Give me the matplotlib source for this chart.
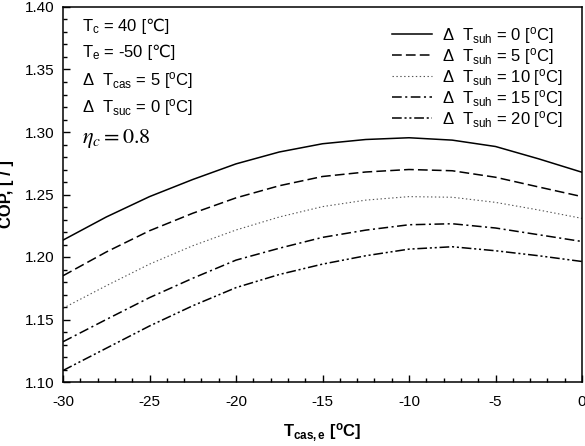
import numpy as np
import matplotlib
matplotlib.use("Agg")
import matplotlib.pyplot as plt
from matplotlib.ticker import MultipleLocator, FormatStrFormatter

plt.rcParams['font.family'] = ['Liberation Sans', 'DejaVu Sans']
plt.rcParams['mathtext.fontset'] = 'custom'
plt.rcParams['mathtext.rm'] = 'Liberation Sans'
plt.rcParams['mathtext.it'] = 'Liberation Sans:italic'
plt.rcParams['mathtext.bf'] = 'Liberation Sans:bold'
plt.rcParams['lines.scale_dashes'] = False
plt.rcParams['axes.unicode_minus'] = False

# data
t_cas_e = [-30, -27.5, -25, -22.5, -20, -17.5, -15, -12.5, -10, -7.5, -5, -2.5, 0]
cop_suh0 = [1.2135, 1.232, 1.2483, 1.262, 1.2745, 1.284, 1.2906, 1.294, 1.2954, 1.2935, 1.2884, 1.2785, 1.2678]
cop_suh5 = [1.185, 1.204, 1.221, 1.235, 1.2473, 1.257, 1.2644, 1.268, 1.270, 1.269, 1.2638, 1.256, 1.2483]
cop_suh10 = [1.159, 1.177, 1.1943, 1.209, 1.2216, 1.232, 1.2403, 1.2455, 1.2483, 1.2478, 1.2437, 1.2376, 1.2309]
cop_suh15 = [1.1322, 1.150, 1.1675, 1.183, 1.1975, 1.207, 1.2157, 1.2215, 1.2258, 1.2266, 1.2232, 1.2178, 1.2124]
cop_suh20 = [1.1092, 1.127, 1.1448, 1.161, 1.1755, 1.186, 1.1943, 1.201, 1.2063, 1.2082, 1.205, 1.201, 1.1964]
suh_labels = ["0", "5", "10", "15", "20"]

series = [cop_suh0, cop_suh5, cop_suh10, cop_suh15, cop_suh20]
styles = [
    dict(linestyle='-', color='black', lw=1.1),
    dict(linestyle=(0, (7, 3)), color='black', lw=1.1),
    dict(linestyle=(0, (1, 1.8)), color='#555555', lw=0.8),
    dict(linestyle=(0, (7, 2.5, 1.5, 2.5)), color='black', lw=1.1),
    dict(linestyle=(0, (7, 2, 1.5, 2, 1.5, 2)), color='black', lw=1.1),
]

fig = plt.figure(figsize=(5.85, 4.46), dpi=100)
ax = fig.add_axes([63 / 585, 1 - 382 / 446, 519 / 585, 375 / 446])

for vals, lab, st in zip(series, suh_labels, styles):
    ax.plot(t_cas_e, vals, label=r'$\Delta$  T$_{\rm suh}$ = ' + lab + r' [$^{\rm o}$C]', **st)

ax.set_xlim(-30, 0)
ax.set_ylim(1.10, 1.40)
ax.xaxis.set_major_locator(MultipleLocator(5))
ax.xaxis.set_minor_locator(MultipleLocator(1))
ax.yaxis.set_major_locator(MultipleLocator(0.05))
ax.yaxis.set_minor_locator(MultipleLocator(0.01))
ax.yaxis.set_major_formatter(FormatStrFormatter('%.2f'))
ax.tick_params(which='both', direction='in', top=False, right=False, labelsize=11, width=1.0)
ax.tick_params(which='major', length=5)
ax.tick_params(which='minor', length=3)
ax.tick_params(axis='y', which='major', pad=6)
ax.tick_params(axis='x', which='major', pad=9)
for sp in ax.spines.values():
    sp.set_linewidth(1.1)

ax.set_xlabel(r'T$_{\mathbf{cas,e}}$ [$^{\mathbf{o}}$C]', fontsize=12, fontweight='bold', labelpad=9)
ax.set_ylabel('COP, [ / ]', fontsize=12, fontweight='bold')
ax.yaxis.set_label_coords(-0.095, 0.5)

kw = dict(transform=ax.transAxes, fontsize=12, va='baseline', ha='left')
x0 = 0.036
t1 = ax.text(x0, 0.936, r'T$_{\rm c}$ = 40', **kw)
t2 = ax.text(x0, 0.867, r'T$_{\rm e}$ = -50', **kw)
ax.text(x0, 0.792, r'$\Delta$  T$_{\rm cas}$ = 5 [$^{\rm o}$C]', **kw)
ax.text(x0, 0.720, r'$\Delta$  T$_{\rm suc}$ = 0 [$^{\rm o}$C]', **kw)
ax.text(x0, 0.637, r'$\eta_c = 0.8$', transform=ax.transAxes, fontsize=16,
        va='baseline', ha='left', math_fontfamily='stix')

# the celsius sign is not in the mathtext font, so put it as plain text after
fig.canvas.draw()
r = fig.canvas.get_renderer()
for t, y in [(t1, 0.936), (t2, 0.867)]:
    w = t.get_window_extent(r).width * 72 / fig.dpi
    ax.annotate(' [℃]', xy=(x0, y), xycoords='axes fraction', xytext=(w, 0),
                textcoords='offset points', fontsize=12, va='baseline', ha='left')

ax.legend(loc='upper left', bbox_to_anchor=(0.634, 0.952), frameon=False, fontsize=12,
          handlelength=2.4, handletextpad=0.6, labelspacing=0.0, borderpad=0, borderaxespad=0)

fig.savefig('out.png', dpi=100)
